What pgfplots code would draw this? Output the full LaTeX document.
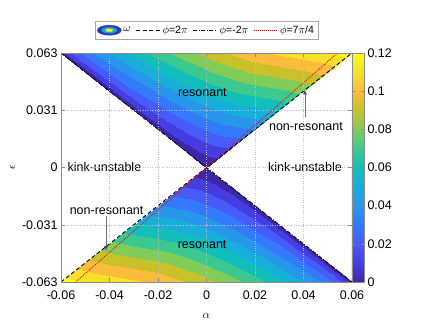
\documentclass[border=0pt]{standalone}
\usepackage{fontspec}
\setmainfont{Liberation Sans}
\usepackage{pgfplots}
\usepackage{pgfplotstable}
\pgfplotsset{compat=1.18}
\usetikzlibrary{arrows.meta}

\definecolor{icA}{rgb}{0.22,0.20,0.70}
\definecolor{icB}{rgb}{0.05,0.68,0.82}
\definecolor{icC}{rgb}{0.97,0.92,0.12}

\pgfplotsset{
  colormap={parula}{
    rgb=(0.2422,0.1504,0.6603) rgb=(0.2759,0.2396,0.8780) rgb=(0.2778,0.3557,0.9773)
    rgb=(0.2024,0.4786,0.9912) rgb=(0.1540,0.5902,0.9218) rgb=(0.0886,0.6835,0.8547)
    rgb=(0.0699,0.7456,0.7257) rgb=(0.2361,0.7899,0.5656) rgb=(0.5044,0.7993,0.3480)
    rgb=(0.7854,0.7573,0.1618) rgb=(0.9842,0.7366,0.2383) rgb=(0.9626,0.8827,0.1563)
    rgb=(0.9769,0.9839,0.0805)},
}

% omega(alpha, epsilon), upper (resonant) wedge, 7 scanlines x 13 points
\pgfplotstableread{
a e w
0 0 0
0 0 0
0 0 0
0 0 0
0 0 0
0 0 0
0 0 0
0 0 0
0 0 0
0 0 0
0 0 0
0 0 0
0 0 0
-0.01 0.0105 0
-0.00973 0.0105 0.00167
-0.00927 0.0105 0.00333
-0.00847 0.0105 0.005
-0.00755 0.0105 0.00667
-0.00617 0.0105 0.00833
-0.0048 0.0105 0.01
-0.0032 0.0105 0.01167
-0.00137 0.0105 0.01333
0.0007 0.0105 0.015
0.00345 0.0105 0.01667
0.00826 0.0105 0.01833
0.01 0.0105 0.01917
-0.02 0.021 0
-0.01946 0.021 0.00333
-0.01854 0.021 0.00667
-0.01694 0.021 0.01
-0.0151 0.021 0.01333
-0.01234 0.021 0.01667
-0.0096 0.021 0.02
-0.0064 0.021 0.02333
-0.00274 0.021 0.02667
0.0014 0.021 0.03
0.0069 0.021 0.03333
0.01652 0.021 0.03667
0.02 0.021 0.03833
-0.03 0.0315 0
-0.02919 0.0315 0.005
-0.02781 0.0315 0.01
-0.02541 0.0315 0.015
-0.02265 0.0315 0.02
-0.01851 0.0315 0.025
-0.0144 0.0315 0.03
-0.0096 0.0315 0.035
-0.00411 0.0315 0.04
0.0021 0.0315 0.045
0.01035 0.0315 0.05
0.02478 0.0315 0.055
0.03 0.0315 0.0575
-0.04 0.042 0
-0.03892 0.042 0.00667
-0.03708 0.042 0.01333
-0.03388 0.042 0.02
-0.0302 0.042 0.02667
-0.02468 0.042 0.03333
-0.0192 0.042 0.04
-0.0128 0.042 0.04667
-0.00548 0.042 0.05333
0.0028 0.042 0.06
0.0138 0.042 0.06667
0.03304 0.042 0.07333
0.04 0.042 0.07667
-0.05 0.0525 0
-0.04865 0.0525 0.00833
-0.04635 0.0525 0.01667
-0.04235 0.0525 0.025
-0.03775 0.0525 0.03333
-0.03085 0.0525 0.04167
-0.024 0.0525 0.05
-0.016 0.0525 0.05833
-0.00685 0.0525 0.06667
0.0035 0.0525 0.075
0.01725 0.0525 0.08333
0.0413 0.0525 0.09167
0.05 0.0525 0.09583
-0.06 0.063 0
-0.05838 0.063 0.01
-0.05562 0.063 0.02
-0.05082 0.063 0.03
-0.0453 0.063 0.04
-0.03702 0.063 0.05
-0.0288 0.063 0.06
-0.0192 0.063 0.07
-0.00822 0.063 0.08
0.0042 0.063 0.09
0.0207 0.063 0.1
0.04956 0.063 0.11
0.06 0.063 0.115
}\tabUp

% lower (resonant) wedge
\pgfplotstableread{
a e w
0 0 0
0 0 0
0 0 0
0 0 0
0 0 0
0 0 0
0 0 0
0 0 0
0 0 0
0 0 0
0 0 0
0 0 0
0 0 0
0.01 -0.0105 0
0.00973 -0.0105 0.00167
0.00927 -0.0105 0.00333
0.00847 -0.0105 0.005
0.00755 -0.0105 0.00667
0.00617 -0.0105 0.00833
0.0048 -0.0105 0.01
0.0032 -0.0105 0.01167
0.00137 -0.0105 0.01333
-0.0007 -0.0105 0.015
-0.00345 -0.0105 0.01667
-0.00826 -0.0105 0.01833
-0.01 -0.0105 0.01917
0.02 -0.021 0
0.01946 -0.021 0.00333
0.01854 -0.021 0.00667
0.01694 -0.021 0.01
0.0151 -0.021 0.01333
0.01234 -0.021 0.01667
0.0096 -0.021 0.02
0.0064 -0.021 0.02333
0.00274 -0.021 0.02667
-0.0014 -0.021 0.03
-0.0069 -0.021 0.03333
-0.01652 -0.021 0.03667
-0.02 -0.021 0.03833
0.03 -0.0315 0
0.02919 -0.0315 0.005
0.02781 -0.0315 0.01
0.02541 -0.0315 0.015
0.02265 -0.0315 0.02
0.01851 -0.0315 0.025
0.0144 -0.0315 0.03
0.0096 -0.0315 0.035
0.00411 -0.0315 0.04
-0.0021 -0.0315 0.045
-0.01035 -0.0315 0.05
-0.02478 -0.0315 0.055
-0.03 -0.0315 0.0575
0.04 -0.042 0
0.03892 -0.042 0.00667
0.03708 -0.042 0.01333
0.03388 -0.042 0.02
0.0302 -0.042 0.02667
0.02468 -0.042 0.03333
0.0192 -0.042 0.04
0.0128 -0.042 0.04667
0.00548 -0.042 0.05333
-0.0028 -0.042 0.06
-0.0138 -0.042 0.06667
-0.03304 -0.042 0.07333
-0.04 -0.042 0.07667
0.05 -0.0525 0
0.04865 -0.0525 0.00833
0.04635 -0.0525 0.01667
0.04235 -0.0525 0.025
0.03775 -0.0525 0.03333
0.03085 -0.0525 0.04167
0.024 -0.0525 0.05
0.016 -0.0525 0.05833
0.00685 -0.0525 0.06667
-0.0035 -0.0525 0.075
-0.01725 -0.0525 0.08333
-0.0413 -0.0525 0.09167
-0.05 -0.0525 0.09583
0.06 -0.063 0
0.05838 -0.063 0.01
0.05562 -0.063 0.02
0.05082 -0.063 0.03
0.0453 -0.063 0.04
0.03702 -0.063 0.05
0.0288 -0.063 0.06
0.0192 -0.063 0.07
0.00822 -0.063 0.08
-0.0042 -0.063 0.09
-0.0207 -0.063 0.1
-0.04956 -0.063 0.11
-0.06 -0.063 0.115
}\tabLo

\begin{document}
\begin{tikzpicture}
\path[use as bounding box] (-61pt,-40pt) rectangle (375pt,282pt);
\begin{axis}[
  at={(0pt,0pt)}, anchor=south west,
  scale only axis, width=291pt, height=229pt,
  view={0}{90},
  font=\fontsize{12.5}{14}\selectfont,
  xmin=-0.06, xmax=0.06, ymin=-0.063, ymax=0.063, zmin=0, zmax=0.12,
  scaled ticks=false,
  xtick={-0.06,-0.04,-0.02,0,0.02,0.04,0.06},
  xticklabels={-0.06,-0.04,-0.02,0,0.02,0.04,0.06},
  ytick={-0.063,-0.0315,0,0.0315,0.063},
  yticklabels={-0.063,-0.031,0,0.031,0.063},
  ztick=\empty,
  xtick pos=both, ytick pos=both,
  xticklabel shift=5pt,
  xlabel={$\alpha$}, ylabel={$\epsilon$},
  xlabel shift=7pt, ylabel shift=0pt,
  xmajorgrids, ymajorgrids,
  grid style={dotted, line width=0.35pt, black!25},
  axis line style={black!45},
  tick style={black!45},
  tick align=inside, major tick length=4pt,
  axis on top,
  point meta min=0, point meta max=0.12,
  colormap name=parula,
  colorbar,
  colorbar style={
    at={(1,1)}, anchor=north west, xshift=19pt, width=12pt,
    scaled ticks=false,
    ytick={0,0.02,0.04,0.06,0.08,0.1,0.12},
    yticklabels={0,0.02,0.04,0.06,0.08,0.1,0.12},
    axis line style={black!45}, tick style={black!45},
    tick align=inside, major tick length=3pt,
    font=\fontsize{12.5}{14}\selectfont,
  },
  legend columns=4,
  legend style={
    at={(0.5,1)}, anchor=south, yshift=14pt,
    draw=black!35, fill=white, inner xsep=2pt, inner ysep=2pt,
    font=\fontsize{10.5}{12}\selectfont,
    /tikz/every even column/.append style={column sep=3pt},
  },
  legend image code/.code={\draw[#1] (0pt,0pt) -- (24pt,0pt);},
]
\addplot3[surf, shader=interp, colormap access=piecewise constant,
  mesh/rows=7, mesh/cols=13,
  legend image code/.code={
    \fill[icA] (12pt,0pt) ellipse (12pt and 5pt);
    \fill[icB] (12pt,0pt) ellipse (7.5pt and 3pt);
    \fill[icC] (12pt,0pt) ellipse (3.5pt and 1.4pt);}]
  table[x=a, y=e, z=w] {\tabUp};
\addlegendentry{$\omega$}
\addplot3[surf, shader=interp, colormap access=piecewise constant,
  mesh/rows=7, mesh/cols=13, forget plot]
  table[x=a, y=e, z=w] {\tabLo};

\addplot3[black, line width=0.9pt, dash pattern=on 4pt off 2.5pt]
  coordinates {(-0.06,-0.063,0.12) (0.06,0.063,0.12)};
\addlegendentry{$\phi$=2$\pi$}
\addplot3[black, line width=0.9pt, dash pattern=on 4pt off 1.5pt on 1pt off 1.5pt]
  coordinates {(-0.06,0.063,0.12) (0.06,-0.063,0.12)};
\addlegendentry{$\phi$=-2$\pi$}
\addplot3[red, line width=0.8pt, dash pattern=on 1pt off 1pt]
  coordinates {(-0.054,-0.063,0.12) (0.054,0.063,0.12)};
\addlegendentry{$\phi$=7$\pi$/4}

\node at (axis cs:-0.0017,0.0415,0.12) {resonant};
\node at (axis cs:-0.0018,-0.0426,0.12) {resonant};
\node at (axis cs:-0.0421,0,0.12) {kink-unstable};
\node at (axis cs:0.0406,0,0.12) {kink-unstable};
\node at (axis cs:0.0410,0.0223,0.12) {non-resonant};
\node at (axis cs:-0.0412,-0.0234,0.12) {non-resonant};
\draw[black!55, line width=0.6pt, -{Latex[length=5pt,width=4pt,fill=black]}]
  (axis cs:0.0406,0.0278,0.12) -- (axis cs:0.0406,0.0430,0.12);
\draw[black!55, line width=0.6pt, -{Latex[length=5pt,width=4pt,fill=black]}]
  (axis cs:-0.0414,-0.0267,0.12) -- (axis cs:-0.0414,-0.0458,0.12);
\end{axis}
\end{tikzpicture}
\end{document}
